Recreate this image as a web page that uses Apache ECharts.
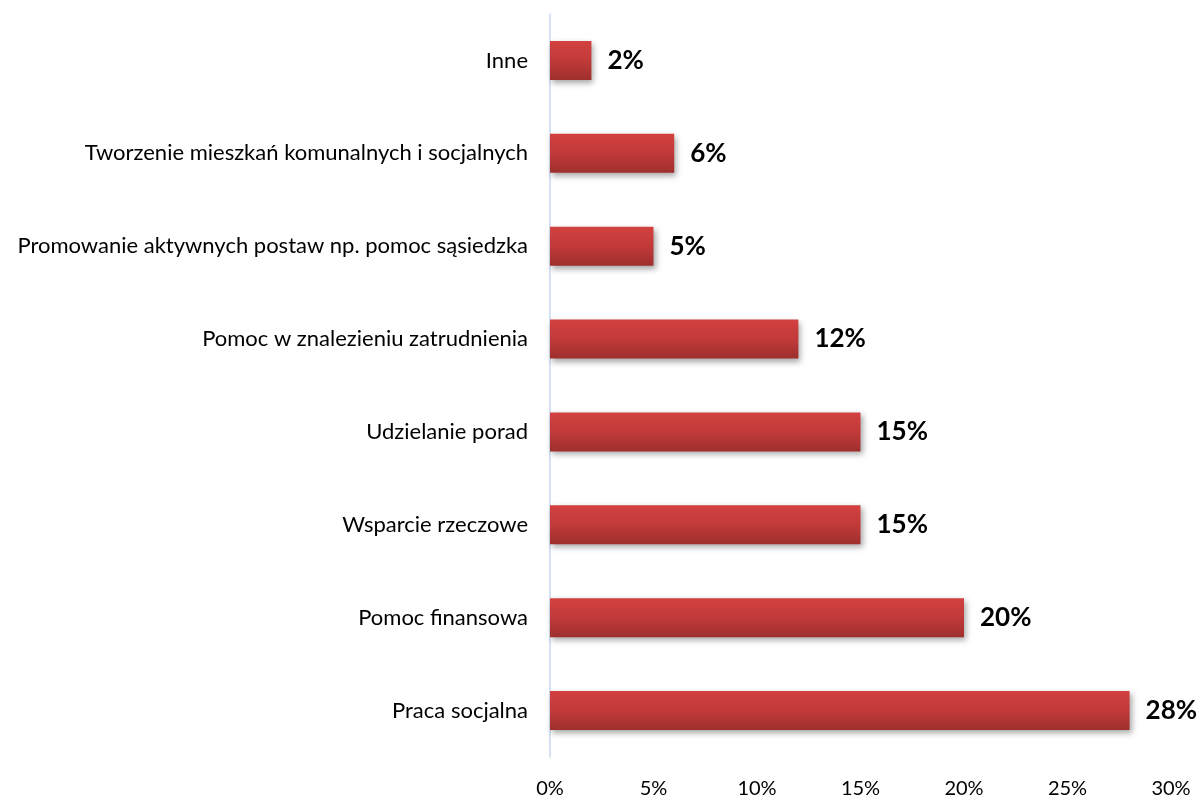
<!DOCTYPE html>
<html>
<head>
<meta charset="utf-8">
<script src="https://cdn.jsdelivr.net/npm/echarts@6/dist/echarts.min.js"></script>
<style>
  html, body { margin: 0; padding: 0; background: #fff; }
  #chart { width: 1198px; height: 799px; }
</style>
</head>
<body>
<div id="chart"></div>
<script>
// categories listed bottom -> top (as on the axis)
var categories = [
  'Praca socjalna',
  'Pomoc finansowa',
  'Wsparcie rzeczowe',
  'Udzielanie porad',
  'Pomoc w znalezieniu zatrudnienia',
  'Promowanie aktywnych postaw np. pomoc sąsiedzka',
  'Tworzenie mieszkań komunalnych i socjalnych',
  'Inne'
];
var values = [28, 20, 15, 15, 12, 5, 6, 2];
var xTicks = [0, 5, 10, 15, 20, 25, 30];

var font = 'Lato, "Open Sans", sans-serif';
var chart = echarts.init(document.getElementById('chart'));
chart.setOption({
  animation: false,
  grid: { left: 550, right: 27, top: 14, bottom: 39, containLabel: false },
  xAxis: {
    type: 'value',
    min: xTicks[0],
    max: xTicks[xTicks.length - 1],
    interval: 5,
    axisLine: { show: false },
    axisTick: { show: false },
    splitLine: { show: false },
    axisLabel: {
      margin: 22,
      color: '#000',
      fontFamily: font,
      fontSize: 20,
      formatter: function (v) { return v + '%'; }
    }
  },
  yAxis: {
    type: 'category',
    data: categories,
    axisLine: { show: true, lineStyle: { color: '#c6d9f1', width: 1.5 } },
    axisTick: { show: false },
    axisLabel: {
      margin: 22,
      color: '#000',
      fontFamily: font,
      fontSize: 22
    }
  },
  series: [{
    type: 'bar',
    data: values,
    barWidth: 39,
    itemStyle: {
      color: new echarts.graphic.LinearGradient(0, 0, 0, 1, [
        { offset: 0, color: '#d24140' },
        { offset: 0.5, color: '#c13a39' },
        { offset: 1, color: '#9e2f2e' }
      ]),
      shadowColor: 'rgba(0,0,0,0.35)',
      shadowBlur: 6,
      shadowOffsetX: 2,
      shadowOffsetY: 3
    },
    label: {
      show: true,
      position: 'right',
      distance: 16,
      color: '#000',
      fontFamily: font,
      fontWeight: 'bold',
      fontSize: 26,
      formatter: '{c}%'
    }
  }]
});
</script>
</body>
</html>
